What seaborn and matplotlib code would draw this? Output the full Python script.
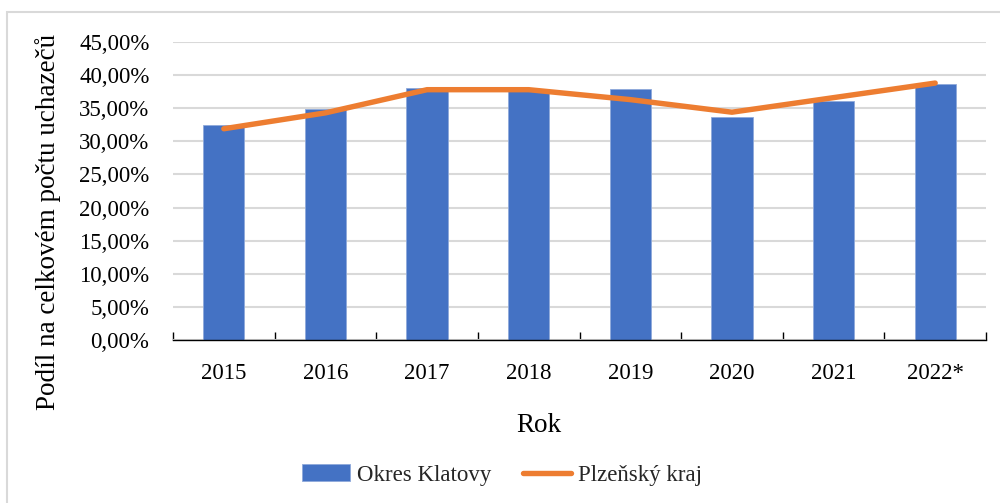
"""
Podíl na celkovém počtu uchazečů: Okres Klatovy vs. Plzeňský kraj.
"""

import numpy as np
import pandas as pd
import matplotlib.pyplot as plt
import seaborn as sns
from matplotlib.patches import Rectangle
from matplotlib.lines import Line2D
from matplotlib.ticker import FixedLocator, FuncFormatter


# =============================================================================
# Data
# =============================================================================

years = ["2015", "2016", "2017", "2018", "2019", "2020", "2021", "2022*"]

okres_klatovy = [32.5, 34.9, 38.0, 37.9, 37.9, 33.7, 36.1, 38.7]

plzensky_kraj = [31.9, 34.3, 37.8, 37.8, 36.3, 34.4, 36.6, 38.8]

y_ticks = [0, 5, 10, 15, 20, 25, 30, 35, 40, 45]


BAR_COLOR = "#4472C4"
LINE_COLOR = "#ED7D31"
GRID_COLOR = "#D9D9D9"


# =============================================================================
# Figure
# =============================================================================

sns.set_theme(style="white")

plt.rcParams["font.family"] = ["Liberation Serif", "DejaVu Serif"]


df = pd.DataFrame({
    "Rok": years,
    "Okres Klatovy": okres_klatovy,
    "Plzeňský kraj": plzensky_kraj,
})
df["pos"] = np.arange(len(df))


fig = plt.figure(
    figsize=(10, 5.03),
    dpi=100
)

ax = fig.add_axes([0.173, 0.324, 0.813, 0.5925])


sns.barplot(
    data=df,
    x="Rok",
    y="Okres Klatovy",
    color=BAR_COLOR,
    width=0.405,
    saturation=1,
    edgecolor="#8EA9DB",
    linewidth=0.6,
    ax=ax,
    zorder=2
)


sns.lineplot(
    data=df,
    x="pos",
    y="Plzeňský kraj",
    color=LINE_COLOR,
    linewidth=3.9,
    solid_capstyle="round",
    solid_joinstyle="round",
    ax=ax,
    zorder=3
)


# =============================================================================
# Axes styling
# =============================================================================

ax.set_xlim(-0.5, len(years) - 0.5)
ax.set_ylim(0, 45)

ax.yaxis.set_major_locator(FixedLocator(y_ticks))
ax.yaxis.set_major_formatter(
    FuncFormatter(lambda v, _: f"{v:.2f}".replace(".", ",") + "%")
)

ax.grid(axis="y", color=GRID_COLOR, linewidth=1.5, zorder=0)
ax.grid(axis="x", visible=False)
ax.set_axisbelow(True)

for side in ["top", "right", "left"]:
    ax.spines[side].set_visible(False)

ax.spines["bottom"].set_color("black")
ax.spines["bottom"].set_linewidth(1.0)
ax.spines["bottom"].set_zorder(4)

ax.set_xticks(range(len(years)))
ax.set_xticklabels(years)
ax.set_xticks(np.arange(-0.5, len(years)), minor=True)

ax.tick_params(axis="x", which="major", length=0, pad=16.5, labelsize=16.5)
ax.tick_params(axis="x", which="minor", direction="in", length=6,
               width=1.0, color="black", bottom=True)
ax.tick_params(axis="y", length=0, pad=17, labelsize=16.5)

for lbl in ax.get_xticklabels() + ax.get_yticklabels():
    lbl.set_color("black")

ax.set_xlabel("")
ax.set_ylabel("")


fig.text(
    0.048, 1 - 222 / 503,
    "Podíl na celkovém počtu uchazečů",
    rotation=90, ha="center", va="center", fontsize=19.5, color="black"
)

fig.text(
    0.539, 1 - 425 / 503,
    "Rok",
    ha="center", va="center", fontsize=19.5, color="black"
)


# =============================================================================
# Legend and outer frame
# =============================================================================

handles = [
    Rectangle((0, 0), 1, 1, facecolor=BAR_COLOR, edgecolor="#8EA9DB",
              linewidth=0.6),
    Line2D([0], [0], color=LINE_COLOR, linewidth=3.9,
           solid_capstyle="round"),
]

fig.legend(
    handles,
    ["Okres Klatovy", "Plzeňský kraj"],
    loc="center",
    bbox_to_anchor=(0.502, 1 - 475 / 503),
    ncol=2,
    frameon=False,
    fontsize=16.5,
    handlelength=2.1,
    handleheight=0.7,
    handletextpad=0.3,
    columnspacing=1.4
)

fig.patches.append(
    Rectangle(
        (0.007, -0.1), 1.2, 1.1 + (1 - 12 / 503) - 1,
        transform=fig.transFigure,
        fill=False, edgecolor=GRID_COLOR, linewidth=1.5
    )
)


fig.savefig("out.png", dpi=100)
